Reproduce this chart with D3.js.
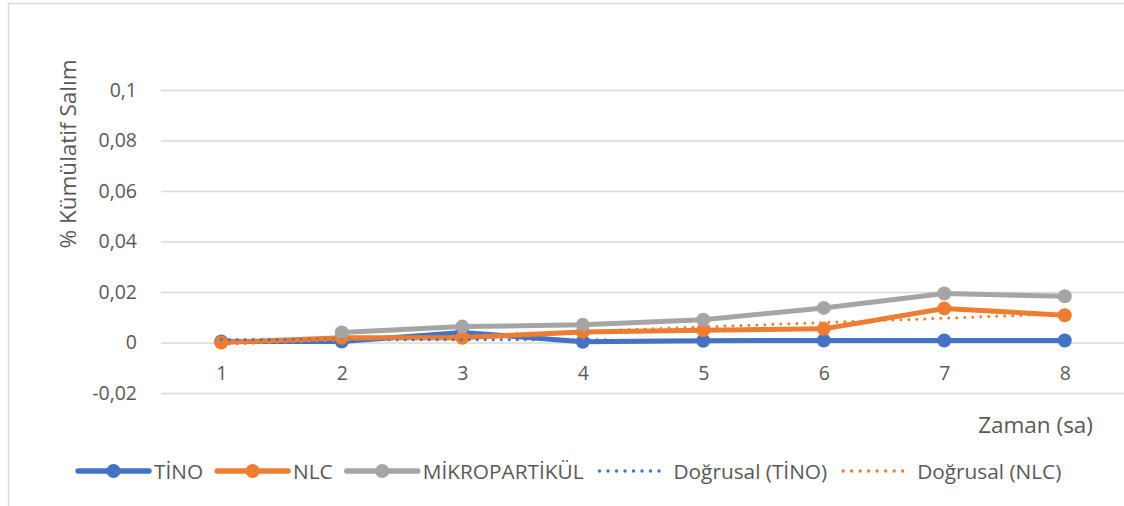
<!DOCTYPE html>
<html>
<head>
<meta charset="utf-8">
<script src="https://cdn.jsdelivr.net/npm/d3@7"></script>
<style>
  body { margin: 0; background: #fff; }
  text { font-family: "Open Sans", sans-serif; fill: #595959; }
</style>
</head>
<body>
<div id="chart"></div>
<script>
// data
let hours = [1, 2, 3, 4, 5, 6, 7, 8];
let tino = [0.0004, 0.0004, 0.0040, 0.0003, 0.0007, 0.0008, 0.0008, 0.0008];
let nlc = [0.0000, 0.0019, 0.0019, 0.0042, 0.0049, 0.0054, 0.0135, 0.0108];
let mikro = [null, 0.0040, 0.0063, 0.0070, 0.0090, 0.0137, 0.0194, 0.0183];
let yTicks = [-0.02, 0, 0.02, 0.04, 0.06, 0.08, 0.1];
let seriesNames = ["TİNO", "NLC", "MİKROPARTİKÜL", "Doğrusal (TİNO)", "Doğrusal (NLC)"];

let W = 1124, H = 506;
let blue = "#4472C4", orange = "#ED7D31", grey = "#A5A5A5";

// linear trend (least squares), like Excel's "Doğrusal" trendline
function trend(vals) {
  let mx = d3.mean(hours), my = d3.mean(vals);
  let sxy = d3.sum(hours, (x, i) => (x - mx) * (vals[i] - my));
  let sxx = d3.sum(hours, x => (x - mx) * (x - mx));
  let b = sxy / sxx, a = my - b * mx;
  return hours.map(x => a + b * x);
}

let svg = d3.select("#chart").append("svg")
  .attr("width", W)
  .attr("height", H);

// chart frame
svg.append("rect")
  .attr("x", 8.5).attr("y", 3.5)
  .attr("width", W + 20).attr("height", H + 20)
  .attr("fill", "none")
  .attr("stroke", "#d9d9d9")
  .attr("stroke-width", 1.5);

let echelle_x = d3.scalePoint()
  .domain(hours)
  .range([161, 161 + 8 * 120.5])
  .padding(0.5);

let echelle_y = d3.scaleLinear()
  .domain([-0.02, 0.1])
  .range([393, 90]);

let loc = d3.formatLocale({decimal: ",", thousands: ".", grouping: [3], currency: ["", ""], minus: "-"});
let fmt = loc.format("~g");

let axeY = d3.axisLeft(echelle_y)
  .tickValues(yTicks)
  .tickSize(-(W - 161))
  .tickPadding(24)
  .tickFormat(fmt);

let gy = svg.append("g")
  .attr("transform", "translate(161,0)")
  .call(axeY);
gy.select(".domain").remove();
gy.selectAll("line").attr("stroke", "#d9d9d9").attr("stroke-width", 1.3);
gy.selectAll("text").style("font-size", "19.5px").attr("fill", "#595959");

let axeX = d3.axisBottom(echelle_x)
  .tickSize(0)
  .tickPadding(24);

let gx = svg.append("g")
  .attr("transform", `translate(0,${echelle_y(0)})`)
  .call(axeX);
gx.select(".domain").remove();
gx.selectAll("text").style("font-size", "19.5px").attr("fill", "#595959");

// axis titles
svg.append("text")
  .attr("text-anchor", "middle")
  .attr("transform", "translate(76,154) rotate(-90)")
  .style("font-size", "22.5px")
  .text("% Kümülatif Salım");

svg.append("text")
  .attr("text-anchor", "end")
  .attr("x", 1093)
  .attr("y", 433)
  .style("font-size", "22.5px")
  .text("Zaman (sa)");

let line = d3.line()
  .defined(d => d[1] != null)
  .x(d => echelle_x(d[0]))
  .y(d => echelle_y(d[1]));

let series = [
  {vals: tino, color: blue},
  {vals: nlc, color: orange},
  {vals: mikro, color: grey}
];

series.forEach(s => {
  let pts = hours.map((h, i) => [h, s.vals[i]]);
  svg.append("path")
    .attr("d", line(pts))
    .attr("fill", "none")
    .attr("stroke", s.color)
    .attr("stroke-width", 5)
    .attr("stroke-linejoin", "round");
  svg.append("g").selectAll("circle")
    .data(pts.filter(d => d[1] != null))
    .enter()
    .append("circle")
      .attr("cx", d => echelle_x(d[0]))
      .attr("cy", d => echelle_y(d[1]))
      .attr("r", 7)
      .attr("fill", s.color);
});

[{vals: trend(tino), color: blue}, {vals: trend(nlc), color: orange}].forEach(t => {
  svg.append("path")
    .attr("d", line(hours.map((h, i) => [h, t.vals[i]])))
    .attr("fill", "none")
    .attr("stroke", t.color)
    .attr("stroke-width", 3)
    .attr("stroke-linecap", "round")
    .attr("stroke-dasharray", "0 8");
});

// legend
let legendItems = [
  {name: seriesNames[0], color: blue, dotted: false},
  {name: seriesNames[1], color: orange, dotted: false},
  {name: seriesNames[2], color: grey, dotted: false},
  {name: seriesNames[3], color: blue, dotted: true},
  {name: seriesNames[4], color: orange, dotted: true}
];

let lx = 78, ly = 471;
legendItems.forEach(it => {
  let g = svg.append("g");
  if (it.dotted) {
    g.append("line")
      .attr("x1", lx + 2).attr("x2", lx + 70)
      .attr("y1", ly).attr("y2", ly)
      .attr("stroke", it.color)
      .attr("stroke-width", 3.4)
      .attr("stroke-linecap", "round")
      .attr("stroke-dasharray", "0 8.5");
  } else {
    g.append("line")
      .attr("x1", lx).attr("x2", lx + 71)
      .attr("y1", ly).attr("y2", ly)
      .attr("stroke", it.color)
      .attr("stroke-width", 5.4)
      .attr("stroke-linecap", "round");
    g.append("circle")
      .attr("cx", lx + 35.5).attr("cy", ly)
      .attr("r", 7)
      .attr("fill", it.color);
  }
  let t = g.append("text")
    .attr("x", lx + 76)
    .attr("y", ly + 8)
    .style("font-size", "20.8px")
    .text(it.name);
  lx += 76 + t.node().getComputedTextLength() + 14;
});
</script>
</body>
</html>
